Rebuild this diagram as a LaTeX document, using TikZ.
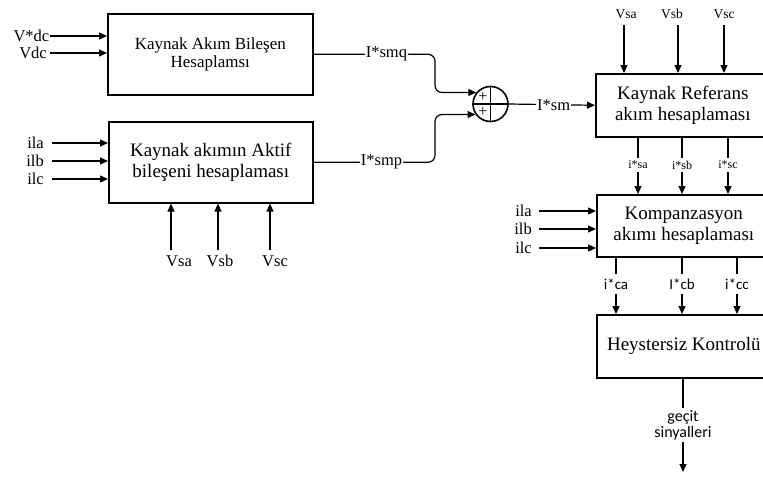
\documentclass[tikz,border=0pt]{standalone}
\usepackage{fontspec}
\setmainfont{Liberation Serif}
\newfontfamily\sigfont{Carlito}
\usetikzlibrary{positioning,arrows.meta,calc}

\begin{document}
\begin{tikzpicture}[
  x=1pt, y=-1pt,
  blk/.style={draw, line width=1.6pt, align=center, anchor=north west, inner sep=0pt,
    font=\fontsize{19}{20.5}\selectfont},
  sig/.style={-{Triangle[length=8pt,width=7pt]}, line width=1.2pt},
  wire/.style={line width=1.2pt},
  lbl/.style={inner sep=1pt, font=\fontsize{16.5}{18}\selectfont},
  tlbl/.style={inner sep=1pt, font=\fontsize{13.5}{15}\selectfont},
  slbl/.style={inner sep=3pt, font=\fontsize{12}{13}\selectfont},
  clbl/.style={inner sep=4pt, font=\sigfont\fontsize{15}{16}\selectfont},
  plus/.style={inner sep=0pt, font=\fontsize{16}{16}\selectfont}
]
\useasboundingbox (0,0) rectangle (763,477);
\clip (0,0) rectangle (763,477);

% blocks
\node[blk, minimum width=205pt, minimum height=81pt, font=\fontsize{17}{18.5}\selectfont]
  (box1) at (107,13) {Kaynak Akım Bileşen\\Hesaplamsı};
\node[blk, minimum width=204pt, minimum height=81pt] (box2) at (108,121)
  {Kaynak akımın Aktif\\bileşeni hesaplaması};
\node[blk, minimum width=174pt, minimum height=63pt] (box3) at (595,73)
  {Kaynak Referans\\akım hesaplaması};
\node[blk, minimum width=174pt, minimum height=62pt] (box4) at (596,194)
  {Kompanzasyon\\akımı hesaplaması};
\node[blk, minimum width=174pt, minimum height=63pt] (box5) at (596,314)
  {Heystersiz Kontrolü};

% summing junction
\node[draw, circle, line width=1.6pt, minimum size=35pt, inner sep=0pt] (sum) at (490.5,104) {};
\draw[wire] (sum.north) -- (sum.south) (sum.west) -- (sum.east);
\node[plus] (plusq) at ($(sum.center)+(-7.7,-7.5)$) {+};
\node[plus] (plusp) at ($(sum.center)+(-7.7,8)$) {+};

% inputs of box1
\node[lbl, anchor=east, inner xsep=0.5pt] (vref) at (50,36) {V*dc};
\node[lbl, anchor=east, inner xsep=3pt] (vdc) at (50,53) {Vdc};
\draw[sig] (vref.east) -- (vref.east -| box1.west);
\draw[sig] (vdc.east) -- (vdc.east -| box1.west);

% inputs of box2
\foreach \nm/\yy in {a/143, b/161, c/179} {
  \node[lbl, anchor=east, inner xsep=8pt] (il\nm2) at (52,\yy) {il\nm};
  \draw[sig] (il\nm2.east) -- (il\nm2.east -| box2.west);
}
\foreach \nm/\xx/\dx in {a/171/8, b/218/2, c/270/5} {
  \node[lbl] (vs\nm2) at (\xx+\dx,261) {Vs\nm};
  \coordinate (vs\nm2s) at (\xx,250);
  \draw[sig] (vs\nm2s) -- (vs\nm2s |- box2.south);
}

% to the summing junction
\coordinate (bend) at (435,0);
\draw[sig, rounded corners=7pt] (box1.east) -| node[lbl, fill=white, pos=0.3] {I*smq}
  (bend |- sum.141) -- (sum.141);
\draw[sig, rounded corners=7pt] (box2.east) -| node[lbl, fill=white, pos=0.28] {I*smp}
  (bend |- sum.215) -- (sum.215);
\draw[sig] (sum.east) -- node[lbl, fill=white, pos=0.52] {I*sm} (box3.west);

% inputs of box3
\foreach \nm/\xx/\dx in {a/624/2, b/678/-6, c/724/0} {
  \node[tlbl] (vs\nm3) at (\xx+\dx,14) {Vs\nm};
  \coordinate (vs\nm3s) at (\xx,25);
  \draw[sig] (vs\nm3s) -- (vs\nm3s |- box3.north);
}

% box3 -> box4
\foreach \nm/\xx in {a/638, b/682, c/728} {
  \node[slbl] (is\nm) at (\xx,165) {i*s\nm};
  \draw[wire] (is\nm.north |- box3.south) -- (is\nm.north);
  \draw[sig] (is\nm.south) -- (is\nm.south |- box4.north);
}

% inputs of box4
\foreach \nm/\yy in {a/211, b/229, c/248} {
  \node[lbl, anchor=east, inner xsep=7pt] (il\nm4) at (539,\yy) {il\nm};
  \draw[sig] (il\nm4.east) -- (il\nm4.east -| box4.west);
}

% box4 -> box5
\foreach \nm/\xx/\tx in {a/616/i*ca, b/682/I*cb, c/737/i*cc} {
  \node[clbl] (ic\nm) at (\xx,284) {\tx};
  \draw[wire] (ic\nm.north |- box4.south) -- (ic\nm.north);
  \draw[sig] (ic\nm.south) -- (ic\nm.south |- box5.north);
}

% gate signals
\node[inner sep=2pt, align=center, font=\sigfont\fontsize{16}{16}\selectfont] (gate) at (683,425)
  {geçit\\sinyalleri};
\coordinate (gend) at (683,472);
\draw[wire] (gate.north |- box5.south) -- (gate.north);
\draw[sig] (gate.south) -- (gend);
\end{tikzpicture}
\end{document}
